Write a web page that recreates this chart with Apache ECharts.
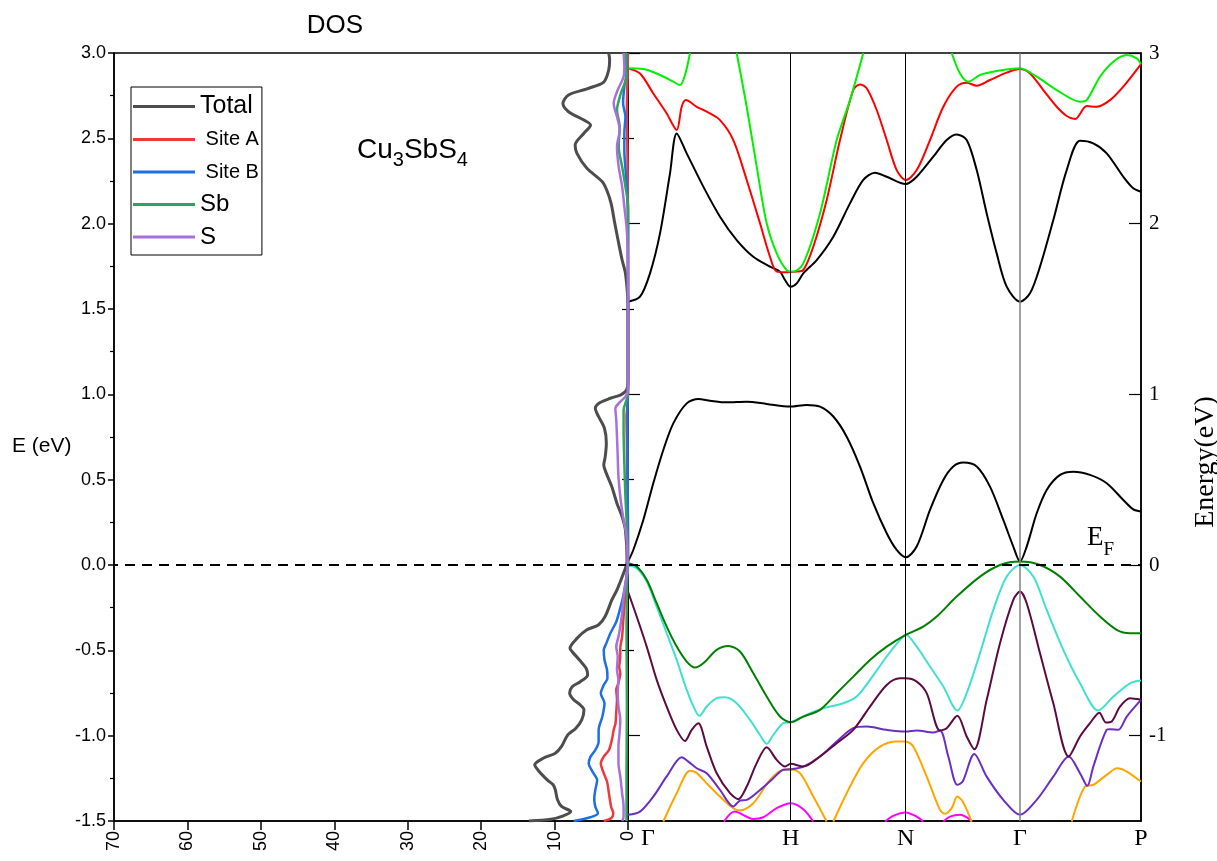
<!DOCTYPE html>
<html><head><meta charset="utf-8">
<script src="https://cdn.jsdelivr.net/npm/echarts@6/dist/echarts.min.js"></script>
<style>html,body{margin:0;padding:0;background:#fff}#c{width:1217px;height:861px}</style>
</head><body><div id="c"></div>
<script>
// ---------- DOS data: [DOS (states/eV), E (eV)] ----------
const dosTotal = [[13.5,-1.5],[10.5,-1.49],[8.8,-1.47],[7.8,-1.445],[9.05,-1.415],[9.6,-1.376],[9.9,-1.317],[10.2,-1.288],[11.0,-1.259],[12.1,-1.21],[12.7,-1.171],[11.55,-1.132],[9.9,-1.103],[9.05,-1.063],[8.2,-0.995],[7.1,-0.956],[6.3,-0.907],[6.0,-0.849],[6.5,-0.82],[7.4,-0.79],[7.95,-0.75],[7.6,-0.713],[6.5,-0.684],[5.5,-0.645],[5.7,-0.605],[6.6,-0.557],[7.6,-0.508],[7.9,-0.488],[6.95,-0.43],[5.6,-0.38],[4.0,-0.35],[3.1,-0.30],[2.2,-0.205],[1.5,-0.146],[0.7,-0.059],[0.2,0.0],[0.13,0.03],[0.35,0.205],[0.8,0.283],[1.5,0.361],[2.2,0.459],[2.95,0.537],[3.3,0.586],[3.1,0.635],[2.95,0.713],[3.2,0.80],[4.0,0.869],[4.45,0.918],[4.0,0.947],[2.4,0.977],[1.04,0.996],[0.35,1.016],[0.05,1.045],[0,1.084],[0,1.5],[0.04,1.572],[0.35,1.709],[0.8,1.787],[1.27,1.885],[1.8,2.002],[2.3,2.119],[2.9,2.197],[3.5,2.246],[5.6,2.324],[6.95,2.412],[7.2,2.461],[6.0,2.53],[5.1,2.578],[6.0,2.607],[8.1,2.656],[8.86,2.705],[8.1,2.754],[5.6,2.79],[3.3,2.83],[2.63,2.90],[2.5,2.96],[2.63,3.0]];
const dosSiteA = [[3.3,-1.5],[2.3,-1.484],[2.0,-1.455],[2.3,-1.416],[2.6,-1.338],[2.85,-1.27],[3.3,-1.22],[3.7,-1.162],[3.3,-1.123],[2.6,-1.084],[2.2,-1.025],[1.95,-0.967],[1.7,-0.928],[1.6,-0.86],[1.5,-0.79],[1.6,-0.73],[1.3,-0.69],[1.05,-0.635],[1.2,-0.596],[1.05,-0.537],[1.05,-0.488],[0.8,-0.42],[0.67,-0.342],[0.5,-0.244],[0.3,-0.146],[0.13,-0.05],[0,0],[0.02,0.3],[0.1,0.5],[0.15,0.7],[0.2,0.87],[0.1,0.93],[0,1.0],[0,2.0],[0.07,2.39],[0.15,2.685],[0.05,2.88],[0.02,3.0]];
const dosSiteB = [[7.4,-1.5],[5.1,-1.478],[4.1,-1.455],[4.45,-1.416],[4.6,-1.37],[4.45,-1.318],[4.2,-1.26],[4.7,-1.22],[5.35,-1.162],[5.1,-1.123],[4.45,-1.084],[4.0,-1.035],[4.0,-0.967],[3.5,-0.889],[3.2,-0.81],[3.7,-0.752],[3.3,-0.703],[2.8,-0.664],[2.85,-0.615],[3.2,-0.557],[3.3,-0.498],[2.95,-0.459],[2.4,-0.40],[1.6,-0.332],[1.13,-0.264],[0.67,-0.186],[0.27,-0.088],[0.05,-0.01],[0,0.1],[0.05,0.6],[0.05,0.95],[0,1.05],[0,2.06],[0.13,2.197],[0.3,2.295],[0.5,2.43],[0.5,2.53],[0.35,2.627],[0.67,2.705],[0.5,2.8],[0.2,2.88],[0.2,3.0]];
const dosSb = [[0.2,-1.5],[0.2,-1.2],[0.15,-0.8],[0.2,-0.4],[0.1,-0.1],[0,0],[0.13,0.205],[0.35,0.40],[0.5,0.596],[0.6,0.79],[0.6,0.908],[0.2,0.967],[0,1.006],[0,2.1],[0.35,2.217],[0.8,2.334],[1.27,2.451],[1.13,2.568],[1.5,2.666],[1.0,2.76],[0.25,2.86],[0.25,3.0]];
const dosS = [[0.8,-1.5],[0.6,-1.475],[0.6,-1.416],[0.8,-1.338],[1.05,-1.24],[1.3,-1.162],[1.3,-1.065],[1.15,-0.986],[1.05,-0.908],[1.3,-0.83],[1.4,-0.752],[1.3,-0.674],[1.5,-0.615],[1.4,-0.537],[1.6,-0.478],[1.3,-0.42],[1.05,-0.361],[0.8,-0.283],[0.6,-0.186],[0.27,-0.088],[0.05,-0.01],[0.2,0.166],[0.67,0.283],[1.05,0.40],[1.3,0.518],[1.4,0.635],[1.5,0.752],[1.6,0.85],[1.72,0.918],[1.04,0.957],[0.35,0.986],[0,1.025],[0,1.71],[0.05,1.865],[0.2,1.982],[0.5,2.1],[0.8,2.217],[1.27,2.334],[1.5,2.451],[1.13,2.549],[1.5,2.627],[1.95,2.705],[1.4,2.783],[0.6,2.861],[0.5,2.92],[0.6,3.0]];
const dosNames = ['Total','Site A','Site B','Sb','S'];

// ---------- Band structure: [k-path distance, E (eV)] ----------
const kTicks = [0, 162.7, 277.7, 392, 513];
const kLabels = ['Γ','H','N','Γ','P'];
const bandC1 = [[[0,0.02],[5.3,0.088],[15.3,0.264],[25.3,0.479],[35.3,0.674],[45.3,0.83],[58.7,0.947],[70.3,0.973],[82,0.963],[98.7,0.953],[118.7,0.957],[138.7,0.944],[162,0.928],[178.7,0.938],[192,0.928],[205.3,0.87],[218.7,0.752],[232,0.577],[245.3,0.362],[258.7,0.186],[268.7,0.088],[277.7,0.045],[288.7,0.108],[302,0.323],[315.3,0.498],[325.3,0.577],[335.3,0.60],[348.7,0.577],[362,0.459],[375.3,0.264],[385.3,0.108],[392,0.02],[398.7,0.108],[408.7,0.303],[418.7,0.44],[432,0.528],[445.3,0.547],[462,0.528],[478.7,0.479],[495.3,0.381],[505.3,0.326],[513,0.313]]];
const bandC2 = [[[0,1.543],[12,1.572],[22,1.709],[32,1.943],[42,2.295],[48.7,2.529],[58.7,2.412],[75.3,2.217],[92,2.041],[108.7,1.904],[125.3,1.806],[142,1.748],[152,1.719],[157,1.67],[162.7,1.63],[168.7,1.65],[175.3,1.709],[188.7,1.787],[205.3,1.924],[222,2.119],[235.3,2.256],[247,2.299],[258.7,2.275],[277.7,2.232],[288.7,2.275],[305.3,2.393],[318.7,2.49],[328.7,2.523],[338.7,2.49],[348.7,2.314],[358.7,2.06],[368.7,1.826],[378.7,1.631],[392,1.543],[402,1.592],[412,1.748],[425.3,2.021],[438.7,2.314],[452,2.486],[465.3,2.471],[478.7,2.412],[495.3,2.275],[505.3,2.207],[513,2.187]]];
const bandC3 = [[[0,2.91],[12,2.88],[25.3,2.763],[38.7,2.646],[48.7,2.549],[53.7,2.685],[58,2.724],[68.7,2.685],[78.7,2.656],[92,2.607],[105.3,2.49],[118.7,2.256],[132,2.002],[142,1.806],[148.7,1.719],[158.7,1.715],[168.7,1.719],[175.3,1.728],[185.3,1.865],[198.7,2.139],[212,2.49],[225.3,2.783],[232,2.816],[238.7,2.793],[248.7,2.666],[258.7,2.49],[268.7,2.314],[277.7,2.256],[288.7,2.314],[302,2.49],[315.3,2.685],[328.7,2.803],[338.7,2.826],[348.7,2.808],[362,2.842],[378.7,2.885],[392,2.906],[402,2.88],[415.3,2.783],[428.7,2.685],[438.7,2.631],[447,2.613],[458.7,2.689],[468.7,2.685],[482,2.724],[495.3,2.803],[513,2.935]]];
const bandC4 = [
  [[0,2.91],[15.3,2.906],[32,2.871],[45.3,2.832],[52,2.812],[57,2.871],[62,3.0]],
  [[108.7,3.0],[118.7,2.685],[128.7,2.334],[138.7,2.002],[148.7,1.826],[158.7,1.728],[165.3,1.719],[175.3,1.767],[192,2.06],[208.7,2.49],[222,2.724],[235.3,3.0]],
  [[323.7,3.0],[332,2.88],[340.3,2.832],[352,2.871],[368.7,2.894],[392,2.91],[408.7,2.861],[428.7,2.783],[452,2.715],[458.7,2.724],[472,2.861],[485.3,2.949],[498.7,2.988],[508.7,2.969],[513,2.935]]
];
const bandV1 = [[[0,0.01],[8.7,-0.009],[18.7,-0.087],[28.7,-0.224],[38.7,-0.361],[48.7,-0.478],[58.7,-0.566],[67,-0.601],[75.3,-0.576],[88.7,-0.497],[100.3,-0.474],[112,-0.507],[125.3,-0.634],[138.7,-0.771],[152,-0.888],[162.7,-0.921],[175.3,-0.888],[192,-0.849],[208.7,-0.751],[225.3,-0.654],[242,-0.556],[258.7,-0.478],[277.7,-0.409],[295.3,-0.361],[308.7,-0.302],[328.7,-0.185],[352,-0.068],[372,0.0],[392,0.02],[412,0.0],[432,-0.068],[452,-0.185],[472,-0.302],[488.7,-0.38],[502,-0.40],[513,-0.40]]];
const bandV2 = [[[0,0.0],[8.7,-0.019],[18.7,-0.097],[28.7,-0.244],[38.7,-0.40],[48.7,-0.556],[58.7,-0.732],[67,-0.849],[71.3,-0.884],[78.7,-0.829],[88.7,-0.78],[97,-0.775],[108.7,-0.81],[122,-0.908],[132,-0.996],[138.7,-1.048],[145.3,-0.996],[155.3,-0.927],[162.7,-0.921],[178.7,-0.878],[195.3,-0.839],[215.3,-0.81],[228.7,-0.771],[242,-0.673],[258.7,-0.536],[272,-0.439],[277.7,-0.409],[288.7,-0.478],[302,-0.595],[315.3,-0.712],[329.3,-0.853],[338.7,-0.751],[352,-0.517],[365.3,-0.263],[378.7,-0.068],[392,0.0],[405.3,-0.068],[418.7,-0.263],[435.3,-0.497],[452,-0.693],[470.3,-0.853],[485.3,-0.771],[502,-0.693],[513,-0.677]]];
const bandV3 = [[[0,-0.156],[8.7,-0.302],[18.7,-0.478],[28.7,-0.673],[38.7,-0.83],[48.7,-0.966],[57,-1.031],[63.7,-0.966],[70.3,-0.927],[78.7,-1.064],[88.7,-1.22],[102,-1.337],[110.3,-1.372],[118.7,-1.298],[128.7,-1.161],[138.7,-1.068],[148.7,-1.142],[157,-1.181],[162.7,-1.165],[175.3,-1.181],[192,-1.122],[208.7,-1.044],[225.3,-0.966],[242,-0.83],[258.7,-0.703],[272,-0.664],[277.7,-0.664],[288.7,-0.683],[298.7,-0.751],[312,-0.97],[318.7,-0.956],[329.3,-0.884],[338.7,-1.005],[346.3,-1.08],[358.7,-0.79],[372,-0.458],[385.3,-0.204],[392,-0.156],[398.7,-0.224],[412,-0.517],[425.3,-0.81],[440.7,-1.122],[452,-1.005],[462,-0.927],[471.3,-0.865],[478,-0.923],[483.7,-0.917],[492,-0.83],[502,-0.781],[513,-0.79]]];
const bandV4 = [[[0,-1.464],[12,-1.445],[25.3,-1.357],[38.7,-1.239],[53.7,-1.126],[60.3,-1.152],[68.7,-1.191],[78.7,-1.22],[92,-1.318],[105.3,-1.415],[112,-1.38],[118.7,-1.376],[132,-1.318],[145.3,-1.249],[155.3,-1.2],[162.7,-1.197],[175.3,-1.181],[192,-1.122],[208.7,-1.034],[225.3,-0.956],[238.7,-0.947],[258.7,-0.966],[277.7,-0.976],[288.7,-0.97],[305.3,-0.982],[312,-0.97],[320.3,-1.122],[329.3,-1.288],[334.7,-1.269],[346.3,-1.107],[358.7,-1.24],[375.3,-1.376],[392,-1.464],[408.7,-1.376],[425.3,-1.24],[440.7,-1.122],[452,-1.22],[459.3,-1.294],[465.3,-1.181],[478.7,-0.966],[482,-0.962],[490.3,-0.966],[498.7,-0.888],[513,-0.79]]];
const bandV5 = [
  [[35.3,-1.503],[48.7,-1.337],[62,-1.205],[68,-1.215],[78.7,-1.279],[92,-1.357],[105.3,-1.425],[112,-1.439],[125.3,-1.396],[142,-1.259],[155.3,-1.2],[162.7,-1.197],[172,-1.22],[185.3,-1.357],[198.7,-1.503]],
  [[205.3,-1.503],[218.7,-1.337],[235.3,-1.161],[252,-1.064],[268.7,-1.034],[277.7,-1.034],[285.3,-1.064],[298.7,-1.24],[312,-1.435],[317,-1.458],[323.7,-1.425],[329.3,-1.357],[334.7,-1.386],[343.7,-1.503]],
  [[443.7,-1.503],[457,-1.298],[465.3,-1.288],[478.7,-1.23],[489.3,-1.191],[498.7,-1.21],[513,-1.269]]
];
const bandV6 = [
  [[96,-1.503],[106.7,-1.445],[125.3,-1.488],[135.3,-1.478],[148.7,-1.425],[162.7,-1.396],[175.3,-1.431],[185.3,-1.503]],
  [[257,-1.503],[265.3,-1.47],[277.7,-1.45],[288.7,-1.474],[295.3,-1.503]],
  [[315.3,-1.503],[322,-1.474],[332,-1.464],[340.3,-1.484],[343.7,-1.503]]
];

const SANS = '"Liberation Sans", Arial, sans-serif';
const SERIF = '"Liberation Serif", "Times New Roman", serif';

const dosDefs = [
  {name: dosNames[0], data: dosTotal, color: '#4d4d4d', width: 3},
  {name: dosNames[1], data: dosSiteA, color: '#ec3a3c', width: 2.5},
  {name: dosNames[2], data: dosSiteB, color: '#1d6fe3', width: 2.5},
  {name: dosNames[3], data: dosSb, color: '#2ba65a', width: 2.5},
  {name: dosNames[4], data: dosS, color: '#a96fdc', width: 2.5}
];
const bandDefs = [
  {segs: bandC1, color: '#000000'},
  {segs: bandC2, color: '#000000'},
  {segs: bandC3, color: '#ff0000'},
  {segs: bandC4, color: '#00f000'},
  {segs: bandV6, color: '#ff00ff'},
  {segs: bandV5, color: '#ffa500'},
  {segs: bandV4, color: '#6a2ec4'},
  {segs: bandV3, color: '#5c0b42'},
  {segs: bandV2, color: '#40e0d0'},
  {segs: bandV1, color: '#008000'}
];

const dashed = {type: [10, 7], color: '#000', width: 2};
const series = [];
dosDefs.forEach((d, i) => {
  const s = {
    type: 'line', name: d.name, xAxisIndex: 0, yAxisIndex: 0, data: d.data,
    symbol: 'none', smooth: 0.3, z: 3 + i,
    lineStyle: {color: d.color, width: d.width}, itemStyle: {color: d.color}
  };
  if (i === 0) {
    s.markLine = {silent: true, symbol: ['none','none'], label: {show: false},
      lineStyle: dashed, data: [{yAxis: 0}]};
  }
  series.push(s);
});
// symmetry-point lines + Fermi level on band panel
series.push({
  type: 'line', name: 'kpoints', xAxisIndex: 1, yAxisIndex: 1, data: [[kTicks[0], 0]],
  symbol: 'none', lineStyle: {width: 0, opacity: 0}, z: 1,
  markLine: {silent: true, symbol: ['none','none'], label: {show: false},
    data: [
      {xAxis: kTicks[1], lineStyle: {color: '#000', width: 1, type: 'solid'}},
      {xAxis: kTicks[2], lineStyle: {color: '#000', width: 1, type: 'solid'}},
      {xAxis: kTicks[3], lineStyle: {color: '#808080', width: 1.5, type: 'solid'}},
      {yAxis: 0, lineStyle: dashed}
    ]}
});
bandDefs.forEach((b, bi) => {
  b.segs.forEach((seg) => {
    series.push({
      type: 'line', name: 'band' + bi, xAxisIndex: 1, yAxisIndex: 1, data: seg,
      symbol: 'none', smooth: 0.3, z: 3,
      lineStyle: {color: b.color, width: 2}, itemStyle: {color: b.color}
    });
  });
});

const axisLineBlack = {show: true, onZero: false, lineStyle: {color: '#000', width: 1.5}};
const intTicks = [-1, 0, 1, 2, 3];
const halfTicks = [-0.5, 0.5, 1.5, 2.5];
const bandY = (pos, vals, len, showLine, showLabel) => ({
  type: 'value', gridIndex: 1, position: pos, min: -1.5, max: 3, interval: 0.5,
  axisLine: showLine ? axisLineBlack : {show: false},
  axisTick: {show: true, inside: true, length: len, customValues: vals, lineStyle: {color: '#000', width: 1.2}},
  axisLabel: showLabel ? {show: true, customValues: intTicks, color: '#000', fontFamily: SERIF, fontSize: 21, margin: 8,
    formatter: v => String(v)} : {show: false},
  splitLine: {show: false}
});

const option = {
  animation: false,
  backgroundColor: '#fff',
  grid: [
    {left: 114, top: 53, width: 514, height: 768, show: true, borderColor: '#000', borderWidth: 1.5},
    {left: 628, top: 53, width: 513, height: 768, show: true, borderColor: '#000', borderWidth: 1.5}
  ],
  legend: {
    data: [
      {name: 'Total', textStyle: {fontSize: 25}},
      {name: 'Site A', textStyle: {fontSize: 20}},
      {name: 'Site B', textStyle: {fontSize: 20}},
      {name: 'Sb', textStyle: {fontSize: 24}},
      {name: 'S', textStyle: {fontSize: 24}}
    ],
    formatter: n => (n.indexOf('Site') === 0 ? ' ' + n : n),
    orient: 'vertical', left: 131, top: 87, itemWidth: 62, itemHeight: 3, itemGap: 8.5,
    icon: 'rect', padding: [7, 3, 6, 2], borderColor: '#000', borderWidth: 1, borderRadius: 0,
    selectedMode: false,
    textStyle: {color: '#000', fontFamily: SANS, fontSize: 20, lineHeight: 24}
  },
  xAxis: [
    {type: 'value', gridIndex: 0, min: 0, max: 70, interval: 10, inverse: true,
      axisLine: axisLineBlack,
      axisTick: {show: true, length: 9, lineStyle: {color: '#000', width: 1.5}},
      axisLabel: {rotate: 90, color: '#000', fontFamily: SANS, fontSize: 18, margin: 10},
      splitLine: {show: false}},
    {type: 'value', gridIndex: 1, min: 0, max: 513,
      axisLine: axisLineBlack,
      axisTick: {show: false},
      axisLabel: {customValues: kTicks, color: '#000', fontFamily: SERIF, fontSize: 24, margin: 6,
        formatter: v => { const i = kTicks.indexOf(v); return i === 0 ? '{g|' + kLabels[0] + '}' : kLabels[i]; },
        rich: {g: {fontFamily: SERIF, fontSize: 24, color: '#000', padding: [0, 0, 0, 40]}}},
      splitLine: {show: false}}
  ],
  yAxis: [
    {type: 'value', gridIndex: 0, min: -1.5, max: 3, interval: 0.5,
      axisLine: axisLineBlack,
      axisTick: {show: true, length: 6, lineStyle: {color: '#000', width: 1.5}},
      minorTick: {show: true, splitNumber: 2, length: 4, lineStyle: {color: '#000', width: 1.2}},
      axisLabel: {color: '#000', fontFamily: SANS, fontSize: 18, margin: 8, formatter: v => v.toFixed(1)},
      splitLine: {show: false}},
    bandY('right', intTicks, 12, true, true),
    bandY('right', halfTicks, 6, false, false),
    bandY('left', intTicks, 12, true, false),
    bandY('left', halfTicks, 6, false, false)
  ],
  series: series,
  graphic: [
    {type: 'text', x: 335, y: 26, style: {text: 'DOS', fill: '#000', fontFamily: SANS, fontSize: 26, align: 'center', verticalAlign: 'middle'}},
    {type: 'text', x: 357, y: 150, style: {text: 'Cu{s|3}SbS{s|4}', fill: '#000', fontFamily: SANS, fontSize: 28, lineHeight: 40,
      align: 'left', verticalAlign: 'middle', rich: {s: {fontFamily: SANS, fontSize: 20, lineHeight: 20, verticalAlign: 'bottom'}}}},
    {type: 'text', x: 12, y: 446, style: {text: 'E (eV)', fill: '#000', fontFamily: SANS, fontSize: 21, align: 'left', verticalAlign: 'middle'}},
    {type: 'text', x: 1206, y: 462, rotation: Math.PI / 2, style: {text: 'Energy(eV)', fill: '#000', fontFamily: SERIF, fontSize: 28, align: 'center', verticalAlign: 'middle'}},
    {type: 'text', x: 1087, y: 538, style: {text: 'E{s|F}', fill: '#000', fontFamily: SERIF, fontSize: 27, lineHeight: 44,
      align: 'left', verticalAlign: 'middle', rich: {s: {fontFamily: SERIF, fontSize: 19, lineHeight: 19, verticalAlign: 'bottom'}}}}
  ]
};
const chart = echarts.init(document.getElementById('c'), null, {renderer: 'canvas'});
chart.setOption(option);
</script></body></html>
